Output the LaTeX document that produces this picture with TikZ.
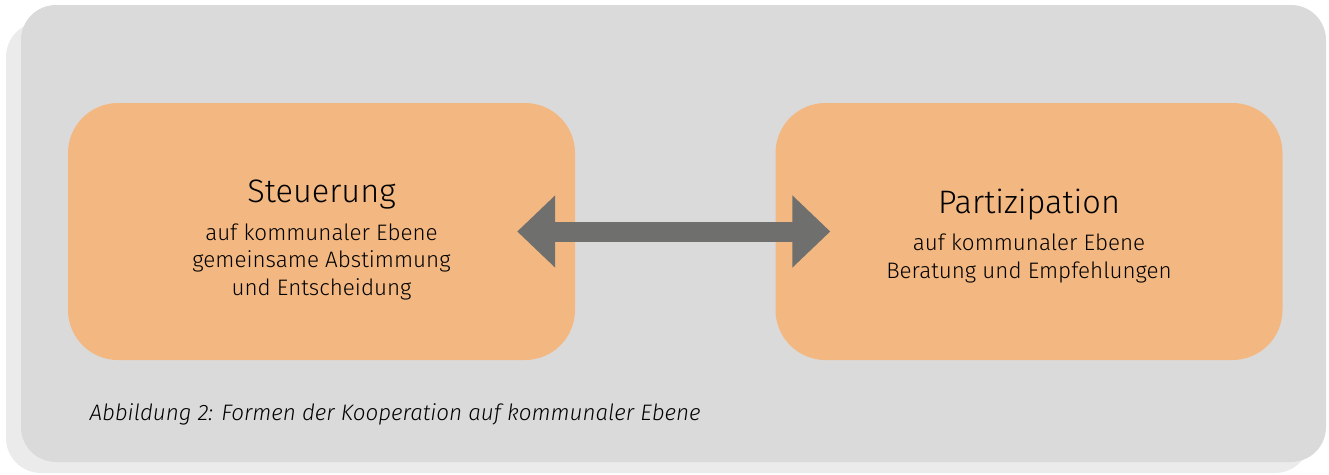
\documentclass[tikz,border=0pt]{standalone}
\usepackage{fontspec}
\IfFontExistsTF{Fira Sans Light}{\setmainfont{Fira Sans Light}[ItalicFont={Fira Sans Light Italic}]}{\setmainfont{Fira Sans}}
\usetikzlibrary{arrows.meta}

\definecolor{panelgrey}{HTML}{DADADA}
\definecolor{shadowgrey}{HTML}{EBEBEB}
\definecolor{boxorange}{HTML}{F3B882}
\definecolor{arrowgrey}{HTML}{6F6F6D}

\begin{document}
\begin{tikzpicture}[x=1pt,y=-1pt,
    formbox/.style={fill=boxorange, rounded corners=50pt, minimum width=507pt,
        minimum height=257pt, inner sep=0pt},
    formtext/.style={align=center, inner sep=0pt,
        font=\fontsize{22.4}{27.5}\selectfont},
    bigarrow/.style={draw=arrowgrey, line width=20pt,
        {Triangle[length=38pt,width=70pt]}-{Triangle[length=38pt,width=70pt]}}]
    \useasboundingbox (0,0) rectangle (1329,474);

    % background panel with its shadow
    \fill[shadowgrey, rounded corners=35pt] (6,22) rectangle (1310,473);
    \fill[panelgrey, rounded corners=35pt] (21,5) rectangle (1326,462);

    \node[formbox] (steuer) at (321.5,231.5) {};
    \node[formbox] (partiz) at (1029,231.5) {};

    \node[formtext] (steuertext) at ([yshift=-8.5pt]steuer.center)
        {{\fontsize{32.5}{38}\selectfont Steuerung}\\[10pt]
         auf kommunaler Ebene\\ gemeinsame Abstimmung\\ und Entscheidung};
    \node[formtext] (partiztext) at ([yshift=-4.5pt]partiz.center)
        {{\fontsize{32.5}{38}\selectfont Partizipation}\\[10pt]
         auf kommunaler Ebene\\ Beratung und Empfehlungen};

    \coordinate (lefttip) at ([xshift=-58pt]steuer.east);
    \coordinate (righttip) at ([xshift=55pt]partiz.west);
    \draw[bigarrow] (lefttip) -- (righttip);

    \node[anchor=base west, font=\fontsize{22.4}{26}\selectfont\itshape] (caption) at (86,420)
        {Abbildung 2: Formen der Kooperation auf kommunaler Ebene};
\end{tikzpicture}
\end{document}
